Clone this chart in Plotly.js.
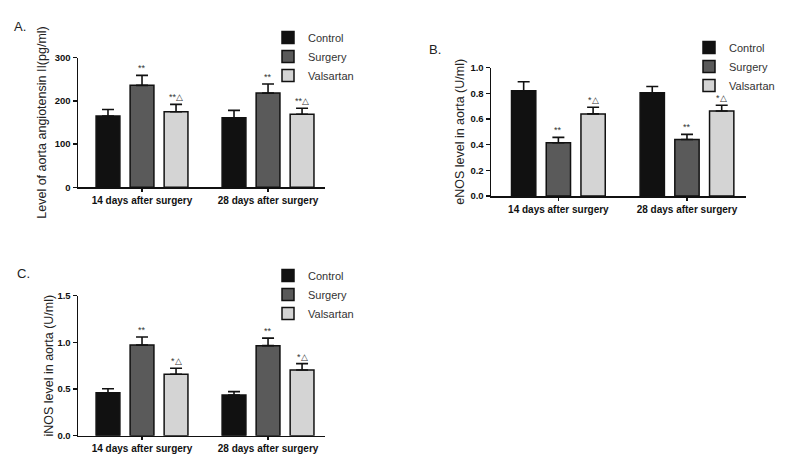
<!DOCTYPE html>
<html>
<head>
<meta charset="utf-8">
<script src="https://cdn.plot.ly/plotly-3.0.1.min.js"></script>
<style>html,body{margin:0;padding:0;background:#fff;}#chart{width:788px;height:466px;}</style>
</head>
<body>
<div id="chart"></div>
<script>
// ---- data ----
const categories = ['14 days after surgery', '28 days after surgery'];
const groups = ['Control', 'Surgery', 'Valsartan'];

// Panel A: aorta angiotensin II (pg/ml)
const angControl = [165, 161];
const angControlErr = [15, 17];
const angSurgery = [236, 218];
const angSurgeryErr = [23, 21];
const angValsartan = [175, 169];
const angValsartanErr = [17, 14];
const angMarks = ['', '**', '**△'];

// Panel B: eNOS (U/ml)
const enosControl = [0.82, 0.805];
const enosControlErr = [0.07, 0.048];
const enosSurgery = [0.415, 0.44];
const enosSurgeryErr = [0.042, 0.04];
const enosValsartan = [0.64, 0.662];
const enosValsartanErr = [0.052, 0.045];
const enosMarks = ['', '**', '*△'];

// Panel C: iNOS (U/ml)
const inosControl = [0.46, 0.436];
const inosControlErr = [0.043, 0.036];
const inosSurgery = [0.972, 0.965];
const inosSurgeryErr = [0.086, 0.08];
const inosValsartan = [0.658, 0.704];
const inosValsartanErr = [0.064, 0.068];
const inosMarks = ['', '**', '*△'];

const yTitles = ['Level of aorta angiotensin II(pg/ml)', 'eNOS level in aorta (U/ml)', 'iNOS level in aorta (U/ml)'];
const panelLabels = ['A.', 'B.', 'C.'];

// ---- styling ----
const FONT = 'Liberation Sans, Arial, sans-serif';
const fills = ['#111111', '#5a5a5a', '#d4d4d4'];
const BARGAP = 0.19, BARGROUPGAP = 0.30;

const panels = [
  {vals: [angControl, angSurgery, angValsartan], errs: [angControlErr, angSurgeryErr, angValsartanErr], marks: angMarks, ax: '', legend: 'legend'},
  {vals: [enosControl, enosSurgery, enosValsartan], errs: [enosControlErr, enosSurgeryErr, enosValsartanErr], marks: enosMarks, ax: '2', legend: 'legend2'},
  {vals: [inosControl, inosSurgery, inosValsartan], errs: [inosControlErr, inosSurgeryErr, inosValsartanErr], marks: inosMarks, ax: '3', legend: 'legend3'}
];

const traces = [];
const annotations = [];
const slot = (1 - BARGAP) / groups.length;

panels.forEach((p, pi) => {
  groups.forEach((g, gi) => {
    traces.push({
      type: 'bar',
      name: g,
      x: categories,
      y: p.vals[gi],
      xaxis: 'x' + p.ax,
      yaxis: 'y' + p.ax,
      legend: p.legend,
      marker: {color: fills[gi], line: {color: '#111', width: 1.5}},
      error_y: {type: 'data', symmetric: false, array: p.errs[gi], arrayminus: p.errs[gi].map(() => 0),
                color: '#111', thickness: 1.6, width: 6},
      hoverinfo: 'x+y+name'
    });
    if (p.marks[gi]) {
      categories.forEach((c, ci) => {
        annotations.push({
          xref: 'x' + p.ax, yref: 'y' + p.ax,
          x: ci + (gi - 1) * slot,
          y: p.vals[gi][ci] + p.errs[gi][ci],
          text: p.marks[gi], showarrow: false,
          yanchor: 'bottom', yshift: 0,
          font: {family: FONT, size: 9, color: '#333'}
        });
      });
    }
  });
});

const labelPos = [[20, 26], [435, 49], [23, 273]];
panelLabels.forEach((t, i) => {
  annotations.push({xref: 'paper', yref: 'paper', x: labelPos[i][0] / 788, y: 1 - labelPos[i][1] / 466,
    xanchor: 'center', yanchor: 'middle', text: t, showarrow: false,
    font: {family: FONT, size: 13, color: '#222'}});
});

function xax(dom, rng, anchor) {
  return {domain: dom, range: rng, anchor: anchor, type: 'category', showline: true, linecolor: '#111', linewidth: 1.5,
    ticks: 'outside', ticklen: 3, tickwidth: 1.5, tickcolor: '#111', showgrid: false, zeroline: false,
    tickfont: {family: FONT, size: 10, color: '#111', weight: 'bold'}, fixedrange: true};
}
function yax(dom, rng, anchor, dtick, fmt, title, standoff) {
  return {domain: dom, range: rng, anchor: anchor, dtick: dtick, tick0: 0, tickformat: fmt, showline: true, linecolor: '#111', linewidth: 1.5,
    ticks: 'outside', ticklen: 4, tickwidth: 1.5, tickcolor: '#111', showgrid: false, zeroline: false,
    tickfont: {family: FONT, size: 9.5, color: '#111', weight: 'bold'},
    title: {text: title, standoff: standoff, font: {family: FONT, size: 12.5, color: '#222'}}, fixedrange: true};
}

const legendBase = (x, y) => ({x: x / 788, y: 1 - y / 466, xanchor: 'left', yanchor: 'top',
  font: {family: FONT, size: 11, color: '#333'}, bgcolor: 'rgba(0,0,0,0)', itemclick: false, itemdoubleclick: false});

const layout = {
  width: 788, height: 466,
  margin: {l: 0, r: 0, t: 0, b: 0},
  paper_bgcolor: '#fff', plot_bgcolor: '#fff',
  barmode: 'group', bargap: BARGAP, bargroupgap: BARGROUPGAP,
  showlegend: true,
  xaxis: xax([78 / 788, 325 / 788], [-0.508, 1.452], 'y'),
  yaxis: yax([1 - 187.3 / 466, 1 - 57.7 / 466], [0, 300], 'x', 100, '', yTitles[0], 5),
  xaxis2: xax([491 / 788, 746 / 788], [-0.524, 1.459], 'y2'),
  yaxis2: yax([1 - 196 / 466, 1 - 67.7 / 466], [0, 1.0], 'x2', 0.2, '.1f', yTitles[1], 3),
  xaxis3: xax([78 / 788, 325 / 788], [-0.508, 1.452], 'y3'),
  yaxis3: yax([1 - 435.7 / 466, 1 - 295.7 / 466], [0, 1.5], 'x3', 0.5, '.1f', yTitles[2], 1),
  legend: legendBase(268, 23),
  legend2: legendBase(689, 33),
  legend3: legendBase(268, 261),
  annotations: annotations
};

Plotly.newPlot('chart', traces, layout, {displayModeBar: false, staticPlot: true});
</script>
</body>
</html>
